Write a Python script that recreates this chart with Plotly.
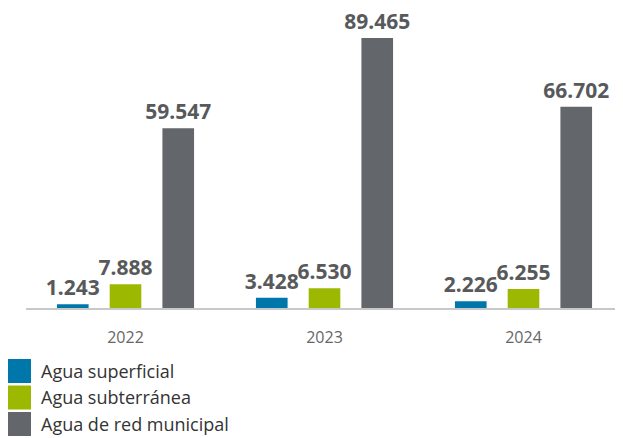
import plotly.graph_objects as go

years = ['2022', '2023', '2024']
superficial = [1243, 3428, 2226]
subterranea = [7888, 6530, 6255]
red_municipal = [59547, 89465, 66702]

names = ['Agua superficial', 'Agua subterránea', 'Agua de red municipal']
colors = ['#0077aa', '#9cb800', '#63666a']
label_color = '#58595b'

# page has an 8px body margin, so the figure is sized 8px smaller than the window
W, H = 615, 430
L, T, B = 18, 2, 130
pw, ph = W - L, H - T - B
base = H - B

fig = go.Figure()
for name, vals, color in zip(names, [superficial, subterranea, red_municipal], colors):
    fig.add_trace(go.Bar(x=years, y=vals, name=name, marker_color=color,
                         marker_line_width=0,
                         texttemplate='%{y:,}', textposition='outside',
                         constraintext='none', cliponaxis=False,
                         textfont=dict(family='Noto Sans', size=21, color=label_color,
                                       weight='bold')))

# legend drawn by hand so the swatches are large squares
for i, (name, color) in enumerate(zip(names, colors)):
    top = 351 + i * 26.5
    fig.add_shape(type='rect', xref='paper', yref='paper',
                  x0=(0 - L) / pw, x1=(23 - L) / pw,
                  y0=(base - top) / ph, y1=(base - top - 24) / ph,
                  fillcolor=color, line_width=0)
    fig.add_annotation(text=name, xref='paper', yref='paper',
                       x=(31 - L) / pw, y=(base - top - 12) / ph,
                       xanchor='left', yanchor='middle', showarrow=False,
                       font=dict(family='Open Sans', size=18, color='#333333'))

fig.update_layout(
    width=W, height=H,
    margin=dict(l=L, r=0, t=T, b=B),
    barmode='group', bargap=0.205, bargroupgap=0.4,
    separators=',.',
    showlegend=False,
    plot_bgcolor='white', paper_bgcolor='white',
)
fig.update_xaxes(showline=True, linecolor='#c8c8c8', linewidth=2,
                 showgrid=False, ticks='', ticklabelstandoff=14,
                 tickfont=dict(family='Open Sans', size=16, color='#666666'))
fig.update_yaxes(visible=False, range=[0, 98740])

fig.write_html('out.html')
